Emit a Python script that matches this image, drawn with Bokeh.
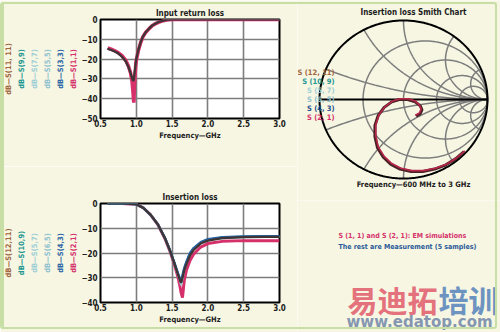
import numpy as np
from bokeh.plotting import figure
from bokeh.layouts import row, column
from bokeh.models import Range1d, FixedTicker, LinearAxis, InlineStyleSheet
from bokeh.embed import file_html
from bokeh.resources import INLINE
from bokeh.core.properties import value

BG = "#f6f6e3"
FONT = "'Liberation Sans Narrow', 'DejaVu Sans Condensed', sans-serif"
GRID = "#7d7d7d"

# ---------------- data ----------------
freq_ticks = [0.5, 1.0, 1.5, 2.0, 2.5, 3.0]
freq_tick_labels = ["0.5", "1.0", "1.5", "2.0", "2.5", "3.0"]
rl_ticks = [0, -10, -20, -30, -40, -50]
il_ticks = [0, -10, -20, -30, -40]

# Input return loss (dB) vs frequency (GHz)
s11_freq = [0.6, 0.65, 0.7, 0.75, 0.8, 0.85, 0.89, 0.92, 0.94, 0.955, 0.965, 0.975, 0.99, 1.0,
            1.03, 1.06, 1.09, 1.13, 1.18, 1.22, 1.27, 1.31, 1.36, 1.42, 1.5, 2.0, 2.5, 3.0]
s11_1_1 = [-14.4, -15.0, -15.8, -16.8, -18.3, -20.5, -23.5, -27.0, -31.0, -37.0, -42.0, -33.0, -24.0, -20.6,
           -15.5, -11.8, -8.9, -6.6, -4.6, -3.2, -2.1, -1.4, -0.8, -0.2, 0.0, 0.0, 0.0, 0.0]
s11_3_3 = [-14.7, -15.3, -16.1, -17.1, -18.6, -20.8, -23.8, -27.0, -30.0, -32.0, -31.5, -28.0, -22.8, -20.2,
           -15.3, -11.7, -8.8, -6.5, -4.5, -3.1, -2.0, -1.3, -0.7, -0.2, 0.0, 0.0, 0.0, 0.0]
s11_5_5 = [-14.6, -15.2, -16.0, -17.0, -18.5, -20.7, -23.7, -27.0, -30.2, -32.5, -32.0, -28.5, -23.0, -20.3,
           -15.4, -11.7, -8.8, -6.5, -4.5, -3.1, -2.0, -1.3, -0.7, -0.2, 0.0, 0.0, 0.0, 0.0]
s11_7_7 = [-14.6, -15.2, -16.0, -17.0, -18.6, -20.8, -23.9, -27.2, -30.6, -33.0, -32.2, -28.6, -23.1, -20.4,
           -15.4, -11.8, -8.9, -6.6, -4.6, -3.1, -2.0, -1.3, -0.7, -0.2, 0.0, 0.0, 0.0, 0.0]
s11_9_9 = [-14.7, -15.3, -16.1, -17.1, -18.7, -20.9, -23.9, -27.1, -30.0, -31.8, -31.2, -28.0, -22.7, -20.1,
           -15.3, -11.6, -8.8, -6.5, -4.5, -3.1, -2.0, -1.3, -0.7, -0.2, 0.0, 0.0, 0.0, 0.0]
s11_11_11 = [-14.8, -15.4, -16.2, -17.2, -18.8, -21.0, -24.0, -27.0, -29.5, -31.0, -30.5, -27.5, -22.5, -20.0,
             -15.2, -11.6, -8.8, -6.5, -4.5, -3.1, -2.0, -1.3, -0.7, -0.2, 0.0, 0.0, 0.0, 0.0]

# Insertion loss (dB) vs frequency (GHz)
s21_freq = [0.6, 0.8, 1.0, 1.1, 1.2, 1.3, 1.4, 1.47, 1.53, 1.58, 1.61, 1.625, 1.645, 1.67,
            1.7, 1.75, 1.8, 1.9, 2.0, 2.2, 2.5, 2.8, 3.0]
s21_2_1 = [0.0, 0.0, -0.3, -1.8, -4.6, -8.5, -14.2, -19.3, -24.5, -29.5, -33.5, -36.0, -38.0, -31.0,
           -27.0, -23.0, -20.5, -17.6, -16.2, -15.3, -15.0, -15.0, -15.0]
s21_4_3 = [0.0, 0.0, -0.3, -1.8, -4.6, -8.4, -13.9, -18.9, -23.8, -28.0, -30.5, -31.5, -29.0, -26.0,
           -23.5, -20.0, -18.0, -15.6, -14.4, -13.6, -13.3, -13.2, -13.2]
s21_6_5 = [0.0, 0.0, -0.3, -1.8, -4.6, -8.4, -14.0, -19.0, -24.0, -28.4, -31.0, -32.5, -30.0, -26.6,
           -24.0, -20.5, -18.4, -15.9, -14.7, -13.9, -13.5, -13.4, -13.4]
s21_5_7 = [0.0, 0.0, -0.3, -1.8, -4.6, -8.4, -14.0, -19.0, -24.1, -28.6, -31.3, -33.0, -30.5, -27.0,
           -24.3, -20.8, -18.6, -16.0, -14.8, -14.0, -13.6, -13.5, -13.5]
s21_10_9 = [0.0, 0.0, -0.3, -1.8, -4.6, -8.4, -13.9, -18.9, -23.9, -28.2, -30.8, -32.0, -29.5, -26.3,
            -23.8, -20.2, -18.2, -15.8, -14.6, -13.8, -13.4, -13.3, -13.3]
s21_12_11 = [0.0, 0.0, -0.3, -1.8, -4.6, -8.4, -14.0, -19.0, -24.0, -28.5, -31.0, -32.0, -30.0, -27.0,
             -24.5, -21.0, -18.8, -16.2, -15.0, -14.0, -13.6, -13.5, -13.5]

# Smith chart of insertion loss, 600 MHz -> 3 GHz (real, imaginary)
smith_meas_re = [0.72, 0.62, 0.50, 0.37, 0.23, 0.09, -0.04, -0.15, -0.24, -0.31, -0.34, -0.34,
                 -0.30, -0.23, -0.14, -0.05, 0.05, 0.14, 0.20, 0.22, 0.20, 0.15]
smith_meas_im = [-0.66, -0.75, -0.83, -0.88, -0.91, -0.91, -0.88, -0.82, -0.73, -0.61, -0.47, -0.33,
                 -0.20, -0.10, -0.03, 0.00, 0.00, -0.03, -0.08, -0.13, -0.18, -0.21]
smith_em_re = [0.73, 0.63, 0.51, 0.38, 0.24, 0.10, -0.03, -0.14, -0.23, -0.30, -0.33, -0.33,
               -0.29, -0.22, -0.13, -0.04, 0.06, 0.14, 0.19, 0.21, 0.19, 0.14]
smith_em_im = [-0.65, -0.74, -0.82, -0.87, -0.90, -0.90, -0.87, -0.81, -0.72, -0.60, -0.46, -0.32,
               -0.19, -0.09, -0.02, 0.01, 0.01, -0.02, -0.07, -0.12, -0.17, -0.20]

smith_r_values = [0.35, 1.0, 2.3, 5.0]
smith_x_values = [0.2, 0.6, 1.0, 2.0, 5.0]

rl_labels = ["dB\u2014S(1,1)", "dB\u2014S(3,3)", "dB\u2014S(5,5)", "dB\u2014S(7,7)", "dB\u2014S(9,9)", "dB\u2014S(11, 11)"]
il_labels = ["dB\u2014S(2,1)", "dB\u2014S(4,3)", "dB\u2014S(6,5)", "dB\u2014S(5,7)", "dB\u2014S(10,9)", "dB\u2014S(12,11)"]
smith_labels = ["S (12, 11)", "S (10, 9)", "S (5, 7)", "S (6, 5)", "S (4, 3)", "S (2, 1)"]

C_PINK = "#d5306a"
C_BLUE = "#2a65a3"
C_LT1 = "#9fcfd6"
C_LT2 = "#90c2cf"
C_TEAL = "#1f9792"
C_BROWN = "#a1673d"
legend_colors = [C_PINK, C_BLUE, C_LT2, C_LT1, C_TEAL, C_BROWN]
smith_label_colors = [C_BROWN, C_TEAL, C_LT1, C_LT2, "#1f4f8a", C_PINK]


def style_text_axis(ax, size="8px"):
    ax.axis_line_color = None
    ax.major_tick_line_color = None
    ax.minor_tick_line_color = None
    ax.major_tick_out = 0
    ax.major_tick_in = 0
    ax.minor_tick_out = 0
    ax.minor_tick_in = 0
    ax.major_label_text_font = FONT
    ax.major_label_text_font_size = size
    ax.major_label_text_font_style = "bold"
    ax.major_label_text_color = "#1c1c1c"
    ax.major_label_standoff = 2
    ax.axis_label_text_font = FONT
    ax.axis_label_text_font_size = "7.5px"
    ax.axis_label_text_font_style = "bold"
    ax.axis_label_text_color = "#1c1c1c"


def make_rect_plot(title, ymin, yticks, top, bottom, labels, colors):
    p = figure(width=297, height=166, x_range=Range1d(0.5, 3.0), y_range=Range1d(ymin, 0),
               output_backend="svg", toolbar_location=None,
               min_border_left=93, min_border_right=18, min_border_top=top, min_border_bottom=bottom,
               background_fill_color="white", border_fill_color=BG)
    p.title.text = title
    p.title.align = "center"
    p.title.text_font = FONT
    p.title.text_font_size = "8px"
    p.title.text_font_style = "bold"
    p.title.text_color = "#1c1c1c"
    p.title.standoff = 3
    p.outline_line_color = "black"
    p.outline_line_width = 2
    p.outline_line_alpha = 1
    xa = p.xaxis[0]
    xa.ticker = FixedTicker(ticks=freq_ticks)
    xa.major_label_overrides = {t: l for t, l in zip(freq_ticks, freq_tick_labels)}
    xa.axis_label = "Frequency\u2014GHz"
    style_text_axis(xa)
    xa.major_label_standoff = 1
    xa.axis_label_standoff = 1
    ya = p.yaxis[0]
    ya.ticker = FixedTicker(ticks=yticks)
    style_text_axis(ya)
    ya.major_label_standoff = 3
    p.xgrid.ticker = FixedTicker(ticks=freq_ticks)
    p.ygrid.ticker = FixedTicker(ticks=yticks)
    for g in (p.xgrid[0], p.ygrid[0]):
        g.grid_line_color = GRID
        g.grid_line_width = 1.6
    for lab, col in zip(labels, colors):
        ax = LinearAxis(axis_label=lab, ticker=FixedTicker(ticks=[]))
        style_text_axis(ax)
        ax.major_label_text_font_size = "0px"
        ax.major_label_standoff = 0
        ax.axis_label_standoff = 1
        ax.axis_label_text_color = col
        p.add_layout(ax, "left")
    return p


# ---------- Input return loss ----------
p1 = make_rect_plot("Input return loss", -50, rl_ticks, 19, 48, rl_labels, legend_colors)
p1.line(s11_freq, s11_7_7, line_color=C_LT1, line_width=2)
p1.line(s11_freq, s11_5_5, line_color=C_LT2, line_width=2)
p1.line(s11_freq, s11_9_9, line_color=C_TEAL, line_width=2)
p1.line(s11_freq, s11_3_3, line_color=C_BLUE, line_width=2)
p1.line(s11_freq, s11_1_1, line_color=C_PINK, line_width=3.6)
p1.line(s11_freq, s11_11_11, line_color="#3f3434", line_width=2.2)

# ---------- Insertion loss ----------
p2 = make_rect_plot("Insertion loss", -40, il_ticks, 37, 30, il_labels, legend_colors)
p2.line(s21_freq, s21_2_1, line_color=C_PINK, line_width=3)
p2.line(s21_freq, s21_5_7, line_color=C_LT1, line_width=2)
p2.line(s21_freq, s21_6_5, line_color=C_LT2, line_width=2)
p2.line(s21_freq, s21_10_9, line_color=C_TEAL, line_width=2.2)
p2.line(s21_freq, s21_4_3, line_color=C_BLUE, line_width=2.4)
p2.line(s21_freq, s21_12_11, line_color="#3f3434", line_width=2.2)

# ---------- Smith chart ----------
ps = figure(width=203, height=200, x_range=Range1d(-1.262, 1.155), y_range=Range1d(-1.278, 1.253),
            output_backend="svg", toolbar_location=None, x_axis_type=None, y_axis_type=None,
            min_border=0, background_fill_color=BG, border_fill_color=BG)
ps.grid.visible = False
ps.outline_line_color = None

t = np.linspace(0, 2 * np.pi, 361)
for r in smith_r_values:
    c, rad = r / (1 + r), 1 / (1 + r)
    ps.line(c + rad * np.cos(t), rad * np.sin(t), line_color=GRID, line_width=1.5)
rr = np.concatenate([np.linspace(0, 5, 300), np.geomspace(5, 1e4, 200)])
for xv in smith_x_values:
    for sgn in (1, -1):
        z = rr + 1j * sgn * xv
        g = (z - 1) / (z + 1)
        ps.line(g.real, g.imag, line_color=GRID, line_width=1.5)
ps.line(np.cos(t), np.sin(t), line_color="black", line_width=2)
ps.line([-1, 1], [0, 0], line_color="black", line_width=2)

ps.line(smith_meas_re, smith_meas_im, line_color="#4a2226", line_width=3)
ps.line(smith_em_re, smith_em_im, line_color="#b8264a", line_width=1.6)

ps.text(x=[0.119], y=[1.101], text=["Insertion loss Smith Chart"], text_font=value(FONT),
        text_font_size="8px", text_font_style="bold", text_color="#1c1c1c",
        text_align="center", text_baseline="middle")
ps.text(x=[0.119], y=[-1.076], text=["Frequency\u2014600 MHz to 3 GHz"], text_font=value(FONT),
        text_font_size="7.5px", text_font_style="bold", text_color="#1c1c1c",
        text_align="center", text_baseline="middle")
lab_y = [0.342, 0.228, 0.114, 0.0, -0.114, -0.228]
ps.text(x=[-0.82] * 6, y=lab_y, text=smith_labels, text_font=value(FONT),
        text_font_size="7.5px", text_font_style="bold", text_color=smith_label_colors,
        text_align="right", text_baseline="middle")

# ---------- notes / watermark ----------
pt = figure(width=203, height=132, x_range=Range1d(0, 203), y_range=Range1d(132, 0),
            output_backend="svg", toolbar_location=None, x_axis_type=None, y_axis_type=None,
            min_border=0, background_fill_color=BG, border_fill_color=BG)
pt.grid.visible = False
pt.outline_line_color = None
pt.text(x=[41, 41], y=[35, 46],
        text=["S (1, 1) and S (2, 1): EM simulations", "The rest are Measurement (5 samples)"],
        text_font=value(FONT), text_font_size="7px", text_font_style="bold",
        text_color=[C_PINK, "#2a5a98"], text_baseline="middle")
pt.text(x=[50], y=[98], text=["\u6613\u8fea\u62d3"], text_font=value("Noto Sans CJK SC"),
        text_font_size="30px", text_font_style="bold", text_color="#e2606f", text_alpha=0.9,
        text_baseline="middle")
pt.text(x=[141], y=[98], text=["\u57f9\u8bad"], text_font=value("Noto Sans CJK SC"),
        text_font_size="30px", text_font_style="bold", text_color="#5a86bd", text_alpha=0.9,
        text_baseline="middle")
pt.text(x=[49], y=[121], text=["www.edatop.com"], text_font=value("DejaVu Sans"),
        text_font_size="15px", text_font_style="bold", text_color="#8597b0",
        text_baseline="middle")

frame_css = InlineStyleSheet(css=(
    ":host { position: relative; }\n"
    ":host::after { content: ''; position: absolute; left: 0px; top: 2px; width: 497px; height: 327px;"
    " box-sizing: border-box; border: 2px solid #c7dfa5; border-left: 4px solid #c7dfa5;"
    " border-radius: 3px; pointer-events: none; z-index: 10; }"
))
layout = row(column(p1, p2), column(ps, pt), stylesheets=[frame_css])
open("out.html", "w").write(file_html(layout, INLINE))
